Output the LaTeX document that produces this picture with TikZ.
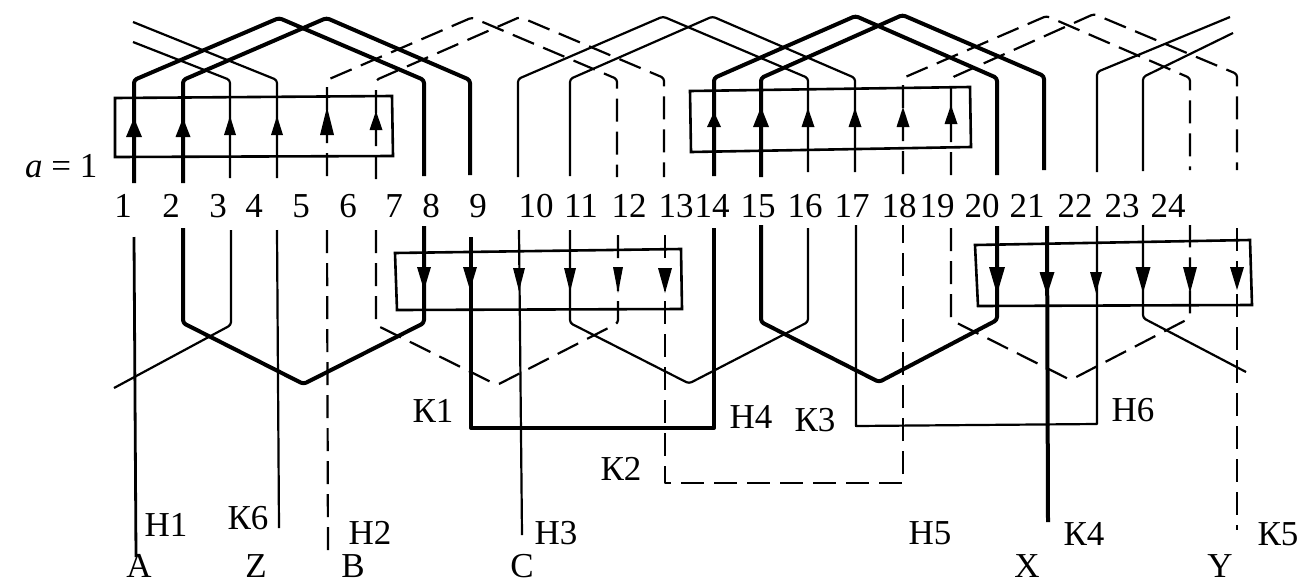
\documentclass[tikz,border=0pt]{standalone}
\usepackage{fontspec}
\setmainfont{Liberation Serif}
\usetikzlibrary{calc}
\tikzset{
  wthick/.style={line width=4pt,line join=round,line cap=butt},
  wmid/.style={line width=2.8pt,line join=round},
  wthin/.style={line width=2.2pt,line join=round},
  wdash/.style={line width=2.2pt,line join=round,dash pattern=on 23pt off 10pt},
  framebox/.style={line width=2.6pt,line join=miter},
  lbl/.style={inner sep=0pt,anchor=base,font=\fontsize{35}{36}\selectfont},
}
\newcommand{\upcoil}[3]{\draw[#1,rounded corners=3pt] (ue#2) -- (us#2) -- ($(us#2)!.5!(us#3)+(0,-62)$) -- (us#3) -- (ue#3);}
\newcommand{\lowcoil}[3]{\draw[#1,rounded corners=3pt] (le#2) -- (ls#2) -- ($(ls#2)!.5!(ls#3)+(0,61)$) -- (ls#3) -- (le#3);}
\begin{document}
\begin{tikzpicture}[x=1pt,y=-1pt]
\useasboundingbox (0,0) rectangle (1303,584);
\fill[white] (0,0) rectangle (1303,584);
% slot: n / x / upper shoulder / upper end / lower x / lower start / lower shoulder
\foreach \n/\x/\us/\ue/\lx/\le/\ls in {
 1/134/80/183/134/237/323, 2/183/80/183/183/228/323, 3/230/80/178/231/230/325, 4/277/80/178/277/230/323,
 5/327/80/176/327/230/323, 6/376/80/179/376/230/325, 7/424/80/176/424/226/323, 8/470/80/175/471/237/323,
 9/518/79/177/519/230/323,10/570/79/176/570/230/323,11/617/79/177/618/228/323,12/664/78/177/665/235/323,
13/714/78/176/714/228/322,14/761/78/177/761/225/322,15/808/78/172/808/228/322,16/855/78/172/856/225/322,
17/903/78/174/903/225/320,18/951/78/175/951/228/320,19/997/78/175/997/226/320,20/1044/76/170/1047/226/320,
21/1097/72/172/1097/226/320,22/1143/77/171/1143/225/318,23/1190/78/170/1190/225/318,24/1237/74/170/1237/228/320}{
  \coordinate (ue\n) at (\x,\ue);
  \coordinate (us\n) at (\x,\us);
  \coordinate (le\n) at (\lx,\le);
  \coordinate (ls\n) at (\lx,\ls);
}
% free ends of the wave windings
\coordinate (fu3) at (133,42);
\coordinate (fu4) at (133,22);
\coordinate (fu21) at (1230,17);
\coordinate (fu22) at (1233,33);
\coordinate (fl3) at (114,388);
\coordinate (fl22) at (1246,372);
% terminal ends
\coordinate (tA) at (136,557);
\coordinate (tZ) at (279,528);
\coordinate (tB) at (328,557);
\coordinate (tC) at (522,535);
\coordinate (tX) at (1048,522);
\coordinate (tY) at (1237,530);
% jumpers
\coordinate (j1a) at (471,428);
\coordinate (j1b) at (714,428);
\coordinate (j2a) at (665,483);
\coordinate (j2b) at (903,483);
\coordinate (j3a) at (856,426);
\coordinate (j3b) at (1097,424);
% upper coils
\upcoil{wthick}{1}{7}
\upcoil{wthick}{2}{8}
\upcoil{wdash}{5}{11}
\upcoil{wdash}{6}{12}
\upcoil{wthin}{9}{15}
\upcoil{wthin}{10}{16}
\upcoil{wthick}{13}{19}
\upcoil{wthick}{14}{20}
\upcoil{wdash}{17}{23}
\upcoil{wdash}{18}{24}
\draw[wthin,rounded corners=3pt] (ue3) -- (us3) -- (fu3);
\draw[wthin,rounded corners=3pt] (ue4) -- (us4) -- (fu4);
\draw[wthin,rounded corners=3pt] (ue21) -- (us21) -- (fu21);
\draw[wthin,rounded corners=3pt] (ue22) -- (us22) -- (fu22);
% lower coils
\lowcoil{wthick}{2}{7}
\lowcoil{wdash}{6}{11}
\lowcoil{wthin}{10}{15}
\lowcoil{wthick}{14}{19}
\lowcoil{wdash}{18}{23}
\draw[wthin,rounded corners=3pt] (le3) -- (ls3) -- (fl3);
\draw[wthin,rounded corners=3pt] (le22) -- (ls22) -- (fl22);
% leads and jumpers
\draw[wmid] (le1) -- (tA);
\draw[wthin] (le4) -- (tZ);
\draw[wdash] (le5) -- (tB);
\draw[wthin] (le9) -- (tC);
\draw[wthick] (le20) -- (tX);
\draw[wdash] (le24) -- (tY);
\draw[wthick] (le8) -- (j1a) -- (j1b) -- (le13);
\draw[wdash] (le12) -- (j2a) -- (j2b) -- (le17);
\draw[wthin] (le16) -- (j3a) -- (j3b) -- (le21);
% phase boxes
\draw[framebox] (115,98) -- (392,96) -- (393,156) -- (115,157) -- cycle;
\draw[framebox] (690,91) -- (970,87) -- (971,147) -- (691,152) -- cycle;
\draw[framebox] (395,253) -- (681,249) -- (682,309) -- (397,310) -- cycle;
\draw[framebox] (975,245) -- (1250,240) -- (1252,305) -- (978,306) -- cycle;
% up arrows: x / tip / base / half width
\foreach \x/\t/\b/\w in {134/118/137/8,183/118/137/7.5,230/116/135/6,277/116/135/6,327/107/135/7,376/111/130/6.5,
 714/112/127/7,761/107/127/8,808/108/127/6.5,855/108/127/6.5,903/107/127/6.5,951/105/124/6.5}{
  \fill (\x,\t) -- (\x+\w,\b) -- (\x-\w,\b) -- cycle;
}
% down arrows
\foreach \x/\t/\b/\w in {424/290/267/7,470/290/267/7,519/291/268/6,570/292/268/6,618/293/267/5,665/293/268/7,
 997/294/267/8,1047/295/272/7.5,1096/293/272/6,1143/293/267/7.5,1190/293/267/7,1237/290/267/7}{
  \fill (\x,\t) -- (\x+\w,\b) -- (\x-\w,\b) -- cycle;
}
% slot numbers
\foreach \n/\x in {1/123,2/171,3/218,4/254,5/301,6/348,7/394,8/431,9/478,10/536,11/581,12/629,
 13/676,14/712,15/758,16/805,17/852,18/899,19/937,20/982,21/1027,22/1075,23/1122,24/1168}{
  \node[lbl] (num\n) at (\x,217) {\n};
}
\node[lbl,anchor=base west] (aeq) at (25,177) {\textit{a} = 1};
\node[lbl] (n1) at (166,536) {Н1};
\node[lbl] (k6) at (248,529) {К6};
\node[lbl] (n2) at (370,544) {Н2};
\node[lbl] (n3) at (556,544) {Н3};
\node[lbl] (k1) at (433,422) {К1};
\node[lbl] (k2) at (621,480) {К2};
\node[lbl] (n4) at (751,428) {Н4};
\node[lbl] (k3) at (815,431) {К3};
\node[lbl] (n6) at (1133,421) {Н6};
\node[lbl] (n5) at (930,544) {Н5};
\node[lbl] (k4) at (1084,545) {К4};
\node[lbl] (k5) at (1278,545) {К5};
\node[lbl] (lA) at (139,577) {A};
\node[lbl] (lZ) at (256,577) {Z};
\node[lbl] (lB) at (353,577) {B};
\node[lbl] (lC) at (522,577) {C};
\node[lbl] (lX) at (1027,577) {X};
\node[lbl] (lY) at (1220,577) {Y};
\end{tikzpicture}
\end{document}
